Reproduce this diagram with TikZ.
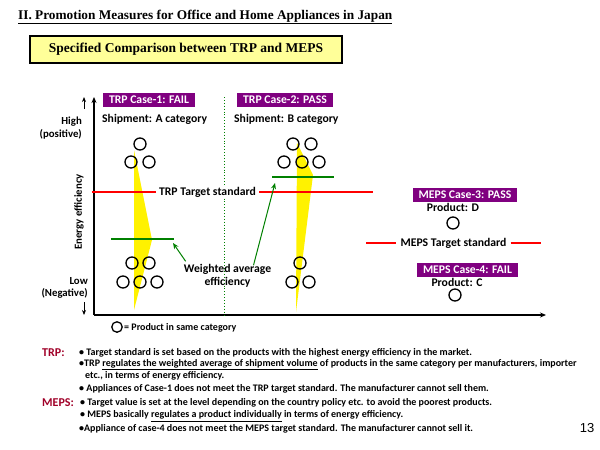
\documentclass[tikz,border=0pt]{standalone}
\usepackage{fontspec}
\setmainfont{Carlito}
\newfontfamily\titlefont{Liberation Serif}
\newfontfamily\pagefont{Liberation Sans}
\usetikzlibrary{arrows.meta}
\definecolor{casepurple}{RGB}{128,0,128}
\definecolor{avggreen}{RGB}{0,128,0}
\definecolor{labelred}{RGB}{160,0,40}
\definecolor{boxyellow}{RGB}{255,255,153}

\begin{document}
\begin{tikzpicture}[x=1pt,y=-1pt,
  casebox/.style={fill=casepurple,text=white,font=\fontsize{11.7}{13}\selectfont\bfseries,inner xsep=6pt,inner ysep=1.5pt,minimum height=14pt},
  lbl/.style={font=\fontsize{11.7}{13}\selectfont\bfseries,inner sep=1pt},
  axlbl/.style={font=\fontsize{10.8}{12.5}\selectfont\bfseries,inner sep=1pt,align=right},
  prod/.style={circle,draw,line width=1.3pt,minimum size=12pt,inner sep=0pt},
  note/.style={font=\fontsize{10}{11}\selectfont\bfseries,anchor=west,inner sep=0pt},
  tag/.style={font=\fontsize{12}{13}\selectfont\bfseries,text=labelred,anchor=west,inner sep=0pt},
  target/.style={red,line width=1.8pt},
  avgline/.style={avggreen,line width=2.2pt},
  garrow/.style={avggreen,line width=1pt,-{Stealth[length=6pt,width=5pt]}},
  axis/.style={line width=1.6pt,-{Stealth[length=6pt,width=5pt]}}]
\useasboundingbox (0,0) rectangle (600,450);

\node[anchor=west,inner sep=0pt,font=\titlefont\fontsize{13.3}{15}\selectfont\bfseries] (title) at (18,17) {\underline{II. Promotion Measures for Office and Home Appliances in Japan}};
\node[draw,line width=1.2pt,fill=boxyellow,minimum width=312pt,minimum height=27pt,font=\titlefont\fontsize{13.5}{15}\selectfont\bfseries] (spec) at (186,49.5) {Specified Comparison between TRP and MEPS};

\fill[yellow] (134,150) -- (152,240) -- (134,310) -- cycle;
\fill[yellow] (297,143) -- (313,175) -- (296,312) -- cycle;

\draw[axis] (94,315) -- (94,97);
\draw[axis] (94,315) -- (546,315);
\draw[-{Stealth[length=5pt,width=4pt]},line width=1pt] (84,109) -- (84,97);
\draw[-{Stealth[length=5pt,width=4pt]},line width=1pt] (84,302) -- (84,315);
\draw[avggreen,dotted,line width=0.9pt] (224,97) -- (224,315);

\node[axlbl,anchor=east] (high) at (83,128) {High\\(positive)};
\node[axlbl,anchor=east] (low) at (89,288) {Low\\(Negative)};
\node[axlbl,rotate=90] (eff) at (79,212) {Energy efficiency};

\node[casebox] (case1) at (149,100) {TRP Case-1: FAIL};
\node[casebox] (case2) at (285,100) {TRP Case-2: PASS};
\node[casebox] (case3) at (465,194.5) {MEPS Case-3: PASS};
\node[casebox] (case4) at (467.5,270) {MEPS Case-4: FAIL};
\node[lbl,anchor=west] (shipa) at (101,119) {Shipment: A category};
\node[lbl,anchor=west] (shipb) at (233,119) {Shipment: B category};
\node[lbl] (prodd) at (453,207) {Product: D};
\node[lbl] (prodc) at (457,282) {Product: C};

\foreach \x/\y [count=\i] in {140/144,131/162,149/162,132/263,149/263,123/282,140/282,157/282}
  \node[prod] (pa\i) at (\x,\y) {};
\foreach \x/\y [count=\i] in {293/144,311/144,284/162,302/162,319/162,300/263,292/282,309/282}
  \node[prod] (pb\i) at (\x,\y) {};
\node[prod] (pd) at (453,223) {};
\node[prod] (pc) at (455,295) {};

\node[lbl,fill=white,inner xsep=3pt] (trpstd) at (207.5,192) {TRP Target standard};
\draw[target] (92,192) -- (trpstd.west);
\draw[target] (trpstd.east) -- (373,192);
\node[lbl,fill=white,inner xsep=4pt] (mepsstd) at (453.5,243) {MEPS Target standard};
\draw[target] (366,243) -- (mepsstd.west);
\draw[target] (mepsstd.east) -- (541,243);

\draw[avgline] (111,239) -- (174,239) coordinate (avg1e);
\draw[avgline] (272,177) coordinate (avg2w) -- (334,177);
\node[lbl,align=center] (wavg) at (227.5,276) {Weighted average\\efficiency};
\draw[garrow] ([xshift=3pt,yshift=2pt]wavg.north west) -- ([xshift=-1pt,yshift=-4pt]avg1e);
\draw[garrow] ([xshift=26pt,yshift=-2pt]wavg.north) -- ([xshift=3pt,yshift=-6pt]avg2w);

\node[prod,minimum size=10.5pt] (legc) at (117,327) {};
\node[anchor=west,inner sep=0pt,font=\fontsize{10}{11}\selectfont\bfseries] (legt) at (124,327.5) {= Product in same category};

\node[tag] (trp) at (42,353) {TRP:};
\node[note] (n1) at (79,353) {• Target standard is set based on the products with the highest energy efficiency in the market.};
\node[note] (n2) at (79,364.5) {•TRP \underline{regulates the weighted average of shipment volume} of products in the same category per manufacturers, importer};
\node[note] (n3) at (85,376) {etc., in terms of energy efficiency.};
\node[note] (n4) at (79,389) {• Appliances of Case-1 does not meet the TRP target standard. The manufacturer cannot sell them.};
\node[tag] (meps) at (42,403) {MEPS:};
\node[note] (n5) at (80,403) {• Target value is set at the level depending on the country policy etc. to avoid the poorest products.};
\node[note] (n6) at (80,416) {• MEPS basically \underline{regulates a product individually} in terms of energy efficiency.};
\node[note] (n7) at (79,429) {•Appliance of case-4 does not meet the MEPS target standard. The manufacturer cannot sell it.};
\node[font=\pagefont\fontsize{13}{15}\selectfont] (page) at (587,428) {13};
\end{tikzpicture}
\end{document}
